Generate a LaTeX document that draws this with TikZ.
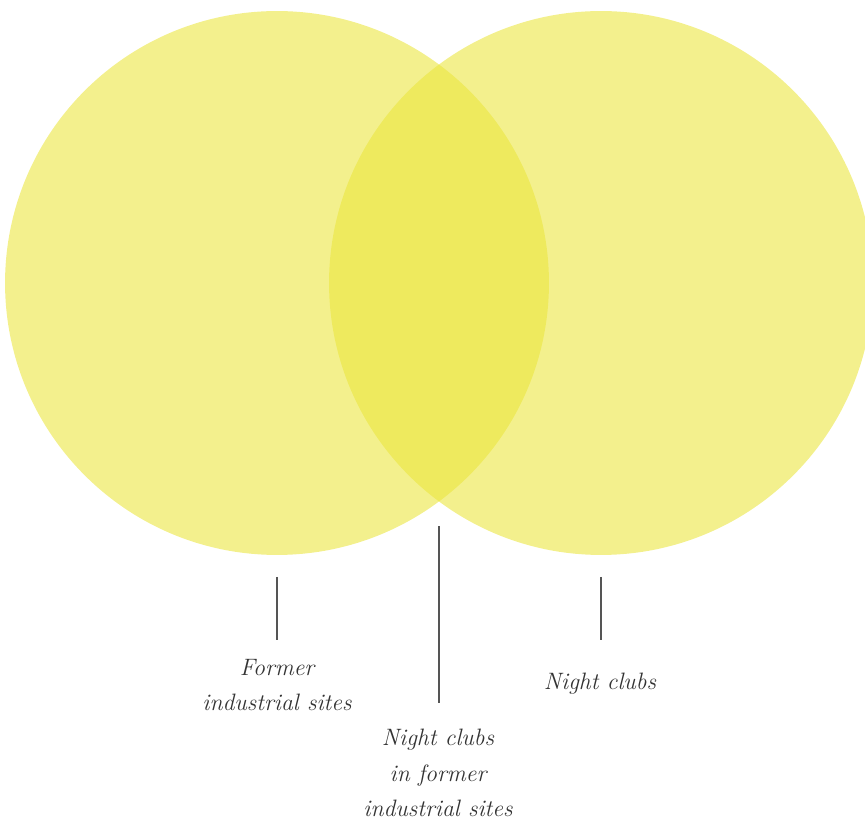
\documentclass[tikz,border=0pt]{standalone}
\usepackage{fontspec}
\setmainfont{Latin Modern Roman}
\definecolor{vennyellow}{RGB}{234,229,59}
\definecolor{inkgray}{HTML}{333333}
\definecolor{tickgray}{HTML}{555555}
\usetikzlibrary{positioning}

\begin{document}
\begin{tikzpicture}[
    x=0.02cm,y=0.02cm,
    venn/.style={circle,inner sep=0pt,outer sep=0pt,minimum size=10.88cm,
                 fill=vennyellow,fill opacity=0.58},
    lbl/.style={align=center,text=inkgray,font=\fontsize{13.5}{20.4}\selectfont\itshape},
    tick/.style={draw=tickgray,line width=0.6pt}
  ]
    \path[use as bounding box,clip] (0,0) rectangle (865,821);
    % the two sets
    \node[venn] (former) at (277,538) {};
    \node[venn] (clubs) at (601,538) {};
    \coordinate (meet) at (439,319.5);
    % labels
    \node[lbl] (formerlbl) at (277,136) {Former\\industrial sites};
    \node[lbl] (clubslbl) at (600,137) {Night clubs};
    \node[lbl] (bothlbl) at (438,48) {Night clubs\\in former\\industrial sites};
    % ticks
    \draw[tick] ([yshift=-0.44cm]former.south) -- ++(0,-63);
    \draw[tick] ([yshift=-0.44cm]clubs.south) -- ++(0,-63);
    \draw[tick] ([yshift=-0.5cm]meet) -- ++(0,-177);
  \end{tikzpicture}
\end{document}
